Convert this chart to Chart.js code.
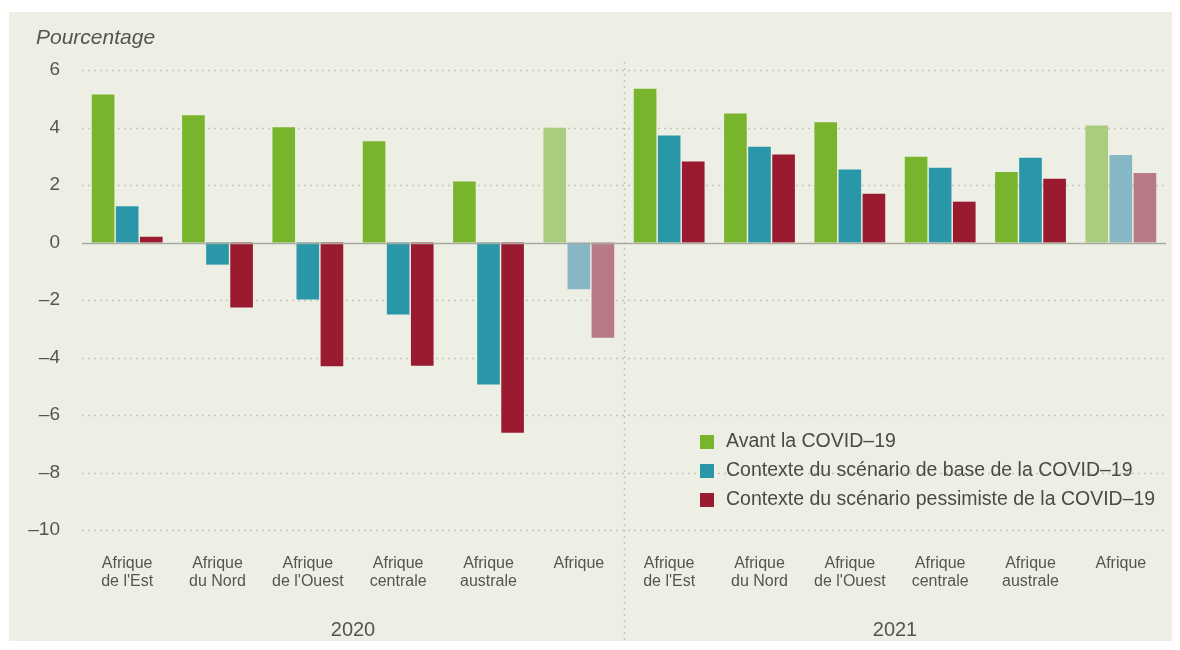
<!DOCTYPE html>
<html>
<head>
<meta charset="utf-8">
<script src="https://cdn.jsdelivr.net/npm/chart.js@4"></script>
<style>
  html, body { margin: 0; padding: 0; background: #ffffff; }
  #wrap { position: relative; width: 1180px; height: 650px; }
</style>
</head>
<body>
<div id="wrap"><canvas id="chart" width="1180" height="650"></canvas></div>
<script>
// ==================
// Data
// ==================
const regions = [
  ["Afrique", "de l'Est"], ["Afrique", "du Nord"], ["Afrique", "de l'Ouest"],
  ["Afrique", "centrale"], ["Afrique", "australe"], ["Afrique"],
  ["Afrique", "de l'Est"], ["Afrique", "du Nord"], ["Afrique", "de l'Ouest"],
  ["Afrique", "centrale"], ["Afrique", "australe"], ["Afrique"]
];
const years = ["2020", "2021"];
const seriesNames = [
  "Avant la COVID\u201319",
  "Contexte du scénario de base de la COVID\u201319",
  "Contexte du scénario pessimiste de la COVID\u201319"
];
const avantCovid   = [5.15, 4.43, 4.01, 3.52, 2.12, 3.99,  5.35, 4.49, 4.18, 2.98, 2.45, 4.07];
const scenarioBase = [1.26, -0.77, -1.98, -2.50, -4.94, -1.63,  3.72, 3.33, 2.54, 2.60, 2.95, 3.04];
const scenarioPess = [0.20, -2.26, -4.30, -4.29, -6.62, -3.31,  2.82, 3.06, 1.70, 1.42, 2.22, 2.42];
const yTicks = [6, 4, 2, 0, -2, -4, -6, -8, -10];

// colours: normal regions, then the lighter "Afrique" total
const colGreen = ["#78b52c", "#a9cc7f"];
const colBlue  = ["#2a97a8", "#86b7c4"];
const colRed   = ["#9a1b30", "#b87a85"];

const FONT = "'Liberation Sans', Arial, sans-serif";
const TXT = "#555550";

function colorsFor(pair) {
  return regions.map(r => r.length === 1 ? pair[1] : pair[0]);
}

// ==================
// Extra drawing: background, grid, separator, legend, titles
// ==================
const decor = {
  id: "decor",
  beforeDraw(chart) {
    const c = chart.ctx;
    c.save();
    c.fillStyle = "#ffffff";
    c.fillRect(0, 0, chart.width, chart.height);
    c.fillStyle = "#eeefe4";
    c.fillRect(9, 12, 1163, 629);
    c.restore();
  },
  beforeDatasetsDraw(chart) {
    const c = chart.ctx, y = chart.scales.y, x = chart.scales.x;
    const a = chart.chartArea;
    c.save();
    // dotted grid lines
    c.strokeStyle = "#c4c6ba";
    c.lineWidth = 1.5;
    c.setLineDash([2, 4]);
    yTicks.forEach(v => {
      if (v === 0) return;
      const py = Math.round(y.getPixelForValue(v)) + 0.5;
      c.beginPath(); c.moveTo(a.left, py); c.lineTo(a.right, py); c.stroke();
    });
    // separator between the two years
    const sx = Math.round((x.getPixelForValue(5) + x.getPixelForValue(6)) / 2) + 0.5;
    c.beginPath(); c.moveTo(sx, a.top - 8); c.lineTo(sx, 640); c.stroke();
    c.restore();
  },
  afterDatasetsDraw(chart) {
    const c = chart.ctx, y = chart.scales.y, x = chart.scales.x;
    const a = chart.chartArea;
    c.save();
    // zero line
    const zy = Math.round(y.getPixelForValue(0)) + 0.5;
    c.strokeStyle = "#a8aaa0";
    c.lineWidth = 1.5;
    c.beginPath(); c.moveTo(a.left, zy); c.lineTo(a.right, zy); c.stroke();

    // axis caption
    c.fillStyle = TXT;
    c.font = "italic 21px " + FONT;
    c.textBaseline = "middle";
    c.textAlign = "left";
    c.fillText("Pourcentage", 36, 38);

    // year labels
    c.font = "20px " + FONT;
    c.textAlign = "center";
    const sx = (x.getPixelForValue(5) + x.getPixelForValue(6)) / 2;
    c.fillText(years[0], (a.left + sx) / 2, 630);
    c.fillText(years[1], (sx + a.right) / 2, 630);

    // legend
    const cols = [colGreen[0], colBlue[0], colRed[0]];
    c.font = "19.5px " + FONT;
    c.textAlign = "left";
    seriesNames.forEach((n, i) => {
      const ly = 442 + i * 29;
      c.fillStyle = cols[i];
      c.fillRect(700, ly - 7, 14, 14);
      c.fillStyle = "#4a4a46";
      c.fillText(n, 726, ly);
    });
    c.restore();
  }
};

// ==================
// Chart
// ==================
const ctx = document.getElementById("chart").getContext("2d");
const datasets = [
  { label: seriesNames[0], data: avantCovid,   backgroundColor: colorsFor(colGreen) },
  { label: seriesNames[1], data: scenarioBase, backgroundColor: colorsFor(colBlue) },
  { label: seriesNames[2], data: scenarioPess, backgroundColor: colorsFor(colRed) }
].map(d => Object.assign(d, { borderWidth: 0, barPercentage: 0.94, categoryPercentage: 0.8 }));

new Chart(ctx, {
  type: "bar",
  data: { labels: regions, datasets: datasets },
  plugins: [decor],
  options: {
    responsive: false,
    animation: false,
    layout: { padding: { left: 9, right: 14, top: 70, bottom: 0 } },
    plugins: { legend: { display: false }, tooltip: { enabled: false } },
    scales: {
      x: {
        grid: { display: false },
        border: { display: false },
        ticks: {
          color: TXT, maxRotation: 0, autoSkip: false, padding: 16,
          font: { family: FONT, size: 16, lineHeight: 1.15 }
        },
        afterFit: s => { s.height = 120; }
      },
      y: {
        min: -10, max: 6,
        afterBuildTicks: s => { s.ticks = yTicks.map(v => ({ value: v })); },
        grid: { display: false },
        border: { display: false },
        ticks: {
          color: TXT, padding: 14,
          font: { family: FONT, size: 19 },
          callback: v => (v < 0 ? "\u2013" + Math.abs(v) : String(v))
        },
        afterFit: s => { s.width = 73; }
      }
    }
  }
});
</script>
</body>
</html>
